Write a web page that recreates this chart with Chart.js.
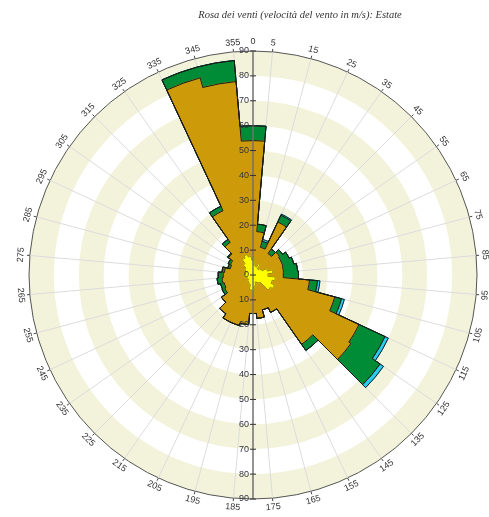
<!DOCTYPE html>
<html>
<head>
<meta charset="utf-8">
<script src="https://cdn.jsdelivr.net/npm/chart.js@4.4.1/dist/chart.umd.min.js"></script>
<style>
  html, body { margin:0; padding:0; background:#fff; }
  #wrap { position:relative; width:489px; height:517px; }
  #titolo { position:absolute; top:9px; left:300px; transform:translateX(-50%); white-space:nowrap;
    font: italic 10.5px "Liberation Serif", "DejaVu Serif", serif; color:#333; }
</style>
</head>
<body>
<div id="wrap">
  <canvas id="rosa"></canvas>
  <div id="titolo">Rosa dei venti (velocità del vento in m/s): Estate</div>
</div>
<script>
// settori di 10 gradi centrati su 0,10,...,350 ; le etichette stanno sui bordi dei settori
const settori = [0,10,20,30,40,50,60,70,80,90,100,110,120,130,140,150,160,170,
                 180,190,200,210,220,230,240,250,260,270,280,290,300,310,320,330,340,350];
const etichetteBordi = ["355","5","15","25","35","45","55","65","75","85","95","105","115","125",
  "135","145","155","165","175","185","195","205","215","225","235","245","255","265","275",
  "285","295","305","315","325","335","345"];
const tickRaggio = [0,10,20,30,40,50,60,70,80,90];

// frequenze cumulate per classe di velocità (contorno esterno di ogni classe)
const classe1 = [6,4,3.5,5,3,3.5,4,6,8,6,9,8,9.5,8.5,4,3.5,3,4.5,
                 6.5,6,4,3.5,3,2.5,2.5,3,3.5,4,3,3,3.5,4,5.5,7.5,8.5,7.5];
const classe2 = [54,17.5,11.5,23.5,10.5,13,12.5,12.5,12.3,12.2,22.8,34,47,48,34,16.6,14.5,17.5,
                 15.5,20,21,21,19,15.5,12.5,12,12.5,12,11.5,9.5,10,12,16,28.5,82,78];
const classe3 = [60,20.5,14,26.5,12.8,14.5,16,17,18,18.3,26,36.8,58.5,62.3,37,16.6,14.5,17.5,
                 15.5,20,21,21,19,15.5,13.7,13.5,14.5,14,12.5,10.5,11,12.5,17.5,30.5,86.5,86.5];
const classe4 = [60,20.5,14.8,27,12.8,14.5,16,17,18,18.3,27,38,60,64,37,16.6,14.5,17.5,
                 15.5,20,21,21,19,15.5,13.7,13.5,14.5,14,12.5,10.5,11,12.5,17.5,30.5,86.5,86.5];

const colori = ["#ffff00", "#cd9b0a", "#008c37", "#2ccaf0"];
const bordi = ["#9a8c00", "#1a1a1a", "#1a1a1a", "#1a1a1a"];

// anelli alternati beige / bianco
const anelli = {
  id: "anelli",
  beforeDraw(chart) {
    const s = chart.scales.r, ctx = chart.ctx;
    ctx.save();
    ctx.fillStyle = "#f3f3dc";
    for (let k = 0; k < tickRaggio.length - 1; k += 2) {
      const r0 = s.getDistanceFromCenterForValue(tickRaggio[k]);
      const r1 = s.getDistanceFromCenterForValue(tickRaggio[k + 1]);
      ctx.beginPath();
      ctx.arc(s.xCenter, s.yCenter, r1, 0, Math.PI * 2);
      ctx.arc(s.xCenter, s.yCenter, r0, 0, Math.PI * 2, true);
      ctx.fill();
    }
    ctx.restore();
  }
};

// contorno esterno di ogni classe (senza linee interne tra settori)
const contorni = {
  id: "contorni",
  afterDatasetsDraw(chart) {
    const ctx = chart.ctx;
    ctx.save();
    ctx.lineWidth = 1;
    for (let i = chart.data.datasets.length - 1; i >= 0; i--) {
      const arcs = chart.getDatasetMeta(i).data;
      ctx.strokeStyle = bordi[i];
      ctx.beginPath();
      arcs.forEach(a => ctx.arc(a.x, a.y, a.outerRadius, a.startAngle, a.endAngle));
      ctx.closePath();
      ctx.stroke();
    }

    // asse verticale con le velocità
    const s = chart.scales.r;
    const R = s.getDistanceFromCenterForValue(s.max);
    ctx.strokeStyle = "#707070"; ctx.lineWidth = 1.5;
    ctx.beginPath();
    ctx.moveTo(s.xCenter, s.yCenter - R); ctx.lineTo(s.xCenter, s.yCenter + R);
    ctx.stroke();
    ctx.font = '9px "Liberation Sans", Arial, sans-serif';
    ctx.fillStyle = "#333340"; ctx.strokeStyle = "#333";
    ctx.lineWidth = 1; ctx.textAlign = "right"; ctx.textBaseline = "middle";
    tickRaggio.forEach(v => {
      const d = s.getDistanceFromCenterForValue(v);
      [-1, 1].forEach(dir => {
        if (v === 0 && dir === 1) return;
        const y = s.yCenter + dir * d;
        ctx.beginPath(); ctx.moveTo(s.xCenter - 3, y); ctx.lineTo(s.xCenter + 3, y); ctx.stroke();
        ctx.fillText(String(v), s.xCenter - 4, y);
      });
    });
    ctx.restore();
  }
};

// etichette delle direzioni, ruotate lungo il cerchio
const direzioni = {
  id: "direzioni",
  afterDraw(chart) {
    const s = chart.scales.r, ctx = chart.ctx;
    const R = s.getDistanceFromCenterForValue(s.max);
    ctx.save();
    ctx.font = '9px "Liberation Sans", Arial, sans-serif';
    ctx.fillStyle = "#333"; ctx.strokeStyle = "#444"; ctx.lineWidth = 1;
    ctx.textAlign = "center"; ctx.textBaseline = "middle";
    etichetteBordi.forEach((lab, i) => {
      const p0 = s.getPointPosition(i, R), p1 = s.getPointPosition(i, R + 3);
      ctx.beginPath(); ctx.moveTo(p0.x, p0.y); ctx.lineTo(p1.x, p1.y); ctx.stroke();
      const p = s.getPointPosition(i, R + 9);
      let rot = s.getIndexAngle(i);
      if (rot > Math.PI / 2 && rot < Math.PI * 1.5) rot -= Math.PI;
      ctx.save();
      ctx.translate(p.x, p.y); ctx.rotate(rot);
      ctx.fillText(lab, 0, 0);
      ctx.restore();
    });
    ctx.fillText("0", s.xCenter, s.yCenter - R - 9);
    ctx.restore();
  }
};

new Chart(document.getElementById("rosa"), {
  type: "polarArea",
  data: {
    labels: etichetteBordi,
    datasets: [classe1, classe2, classe3, classe4].map((d, i) => ({
      data: d, backgroundColor: colori[i], borderColor: colori[i], borderWidth: 1
    }))
  },
  options: {
    responsive: true,
    maintainAspectRatio: false,
    animation: false,
    layout: { padding: { left: 29, right: 12, top: 51, bottom: 18 } },
    plugins: { legend: { display: false }, tooltip: { enabled: false } },
    scales: {
      r: {
        min: 0, max: 90, startAngle: -5,
        ticks: { display: false, stepSize: 10 },
        grid: { color: c => (c.tick && c.tick.value === 90 ? "#555" : "rgba(0,0,0,0)") },
        angleLines: { display: true, color: "#dcdcdc", lineWidth: 1 },
        pointLabels: { display: false }
      }
    }
  },
  plugins: [anelli, contorni, direzioni]
});
</script>
</body>
</html>
